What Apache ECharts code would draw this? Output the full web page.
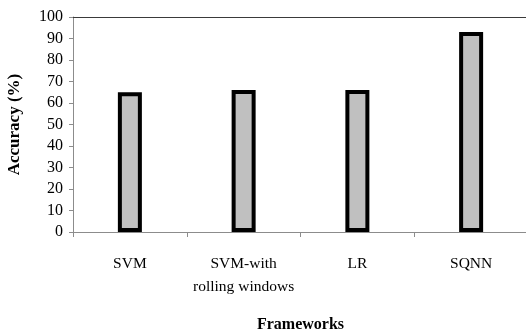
<!DOCTYPE html>
<html>
<head>
<meta charset="utf-8">
<script src="https://cdn.jsdelivr.net/npm/echarts@6/dist/echarts.min.js"></script>
<style>
  html, body { margin: 0; padding: 0; background: #fff; }
  #chart { width: 526px; height: 334px; }
</style>
</head>
<body>
<div id="chart"></div>
<script>
var frameworks = ['SVM', 'SVM-with\nrolling windows', 'LR', 'SQNN'];
var accuracy = [65, 66, 66, 93];
var yTicks = [0, 100, 10]; // min, max, step

var serif = '"Liberation Serif", "DejaVu Serif", serif';
var chart = echarts.init(document.getElementById('chart'));

var option = {
  animation: false,
  backgroundColor: '#fff',
  grid: { left: 73, right: -2, top: 17, bottom: 102, outerBoundsMode: 'none' },
  xAxis: [
    {
      type: 'category',
      data: frameworks,
      name: 'Frameworks',
      nameLocation: 'middle',
      nameGap: 85,
      nameTextStyle: { fontFamily: serif, fontWeight: 'bold', fontSize: 16, color: '#000' },
      axisLine: { lineStyle: { color: '#8c8c8c', width: 1 } },
      axisTick: { show: true, length: 5, lineStyle: { color: '#8c8c8c' } },
      axisLabel: {
        interval: 0,
        margin: 20,
        fontFamily: serif,
        fontSize: 15.5,
        lineHeight: 23,
        color: '#000'
      }
    },
    {
      // top border line of the plot
      type: 'category',
      position: 'top',
      data: frameworks,
      axisLine: { show: true, lineStyle: { color: '#3a3a3a', width: 1 } },
      axisTick: { show: false },
      axisLabel: { show: false }
    }
  ],
  yAxis: {
    type: 'value',
    min: yTicks[0],
    max: yTicks[1],
    interval: yTicks[2],
    name: 'Accuracy (%)',
    nameLocation: 'middle',
    nameGap: 50,
    nameTextStyle: { fontFamily: serif, fontWeight: 'bold', fontSize: 17, color: '#000' },
    axisLine: { show: true, lineStyle: { color: '#8c8c8c', width: 1 } },
    axisTick: { show: true, length: 4, lineStyle: { color: '#8c8c8c' } },
    axisLabel: { margin: 10, fontFamily: serif, fontSize: 16, color: '#000' },
    splitLine: { show: false }
  },
  series: [
    {
      type: 'bar',
      data: accuracy,
      barWidth: 24,
      itemStyle: { color: '#c0c0c0', borderColor: '#000', borderWidth: 4 }
    }
  ]
};
chart.setOption(option);
</script>
</body>
</html>
